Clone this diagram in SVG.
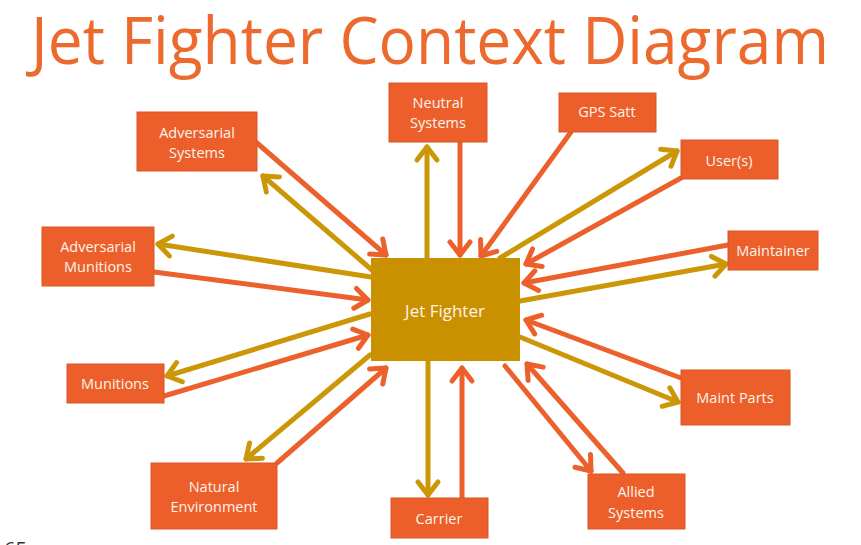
<svg xmlns="http://www.w3.org/2000/svg" width="861" height="545" viewBox="0 0 861 545">
<defs>
<style>
.box{fill:#EC5F2A;stroke:#D9542A;stroke-width:1}
.core{fill:#C99100}
.lbl{font-family:"Open Sans","Noto Sans",sans-serif;font-size:14.5px;fill:#FFF3EC;text-anchor:middle}
.o{stroke:#EC602B;stroke-width:5;fill:none;stroke-linecap:round;marker-end:url(#ho)}
.g{stroke:#CB9706;stroke-width:5;fill:none;stroke-linecap:round;marker-end:url(#hg)}
</style>
<marker id="ho" markerUnits="userSpaceOnUse" markerWidth="30" markerHeight="30" viewBox="-20 -15 30 30" refX="0" refY="0" orient="auto">
<path d="M-13,-10 L0,0 L-13,10" fill="none" stroke="#EC602B" stroke-width="5" stroke-linecap="round" stroke-linejoin="round"/>
</marker>
<marker id="hg" markerUnits="userSpaceOnUse" markerWidth="30" markerHeight="30" viewBox="-20 -15 30 30" refX="0" refY="0" orient="auto">
<path d="M-13,-10 L0,0 L-13,10" fill="none" stroke="#CB9706" stroke-width="5" stroke-linecap="round" stroke-linejoin="round"/>
</marker>
</defs>
<rect width="861" height="545" fill="#FFFFFF"/>
<text x="430" y="64" font-family="'Open Sans','Noto Sans',sans-serif" font-size="66" fill="#ED6A2E" text-anchor="middle" textLength="798" lengthAdjust="spacingAndGlyphs">Jet Fighter Context Diagram</text>
<g id="connectors">
<line class="o" x1="257" y1="143" x2="386" y2="255"/>
<line class="g" x1="372" y1="270" x2="263" y2="176"/>
<line class="g" x1="427" y1="258" x2="427" y2="147"/>
<line class="o" x1="460" y1="142" x2="460" y2="255"/>
<line class="o" x1="571" y1="132" x2="481" y2="256"/>
<line class="g" x1="500" y1="258" x2="677" y2="151"/>
<line class="o" x1="681" y1="178" x2="526" y2="264"/>
<line class="o" x1="728" y1="245" x2="524" y2="283"/>
<line class="g" x1="520" y1="301" x2="726" y2="264"/>
<line class="o" x1="681" y1="378" x2="526" y2="320"/>
<line class="g" x1="520" y1="337" x2="678" y2="402"/>
<line class="o" x1="505" y1="366" x2="591" y2="471"/>
<line class="o" x1="623" y1="473" x2="527" y2="364"/>
<line class="g" x1="428" y1="361" x2="428" y2="495"/>
<line class="o" x1="462" y1="498" x2="462" y2="368"/>
<line class="o" x1="277" y1="463" x2="386" y2="368"/>
<line class="g" x1="370" y1="355" x2="246" y2="459"/>
<line class="o" x1="164" y1="396" x2="368" y2="335"/>
<line class="g" x1="370" y1="314" x2="167" y2="376"/>
<line class="o" x1="154" y1="272" x2="368" y2="300"/>
<line class="g" x1="371" y1="277" x2="158" y2="244"/>
</g>
<g id="jet-fighter">
<rect class="core" x="371" y="258" width="149" height="103"/>
<text class="lbl" x="445" y="317" style="font-size:17px">Jet Fighter</text>
</g>
<g id="adversarial-systems">
<rect class="box" x="137" y="112" width="120" height="59"/>
<text class="lbl" x="197" y="138">Adversarial</text>
<text class="lbl" x="197" y="158">Systems</text>
</g>
<g id="neutral-systems">
<rect class="box" x="389" y="83" width="98" height="59"/>
<text class="lbl" x="438" y="108">Neutral</text>
<text class="lbl" x="438" y="128">Systems</text>
</g>
<g id="gps-satt">
<rect class="box" x="559" y="93" width="97" height="39"/>
<text class="lbl" x="607" y="117">GPS Satt</text>
</g>
<g id="users">
<rect class="box" x="681" y="140" width="97" height="39"/>
<text class="lbl" x="729" y="166">User(s)</text>
</g>
<g id="maintainer">
<rect class="box" x="728" y="231" width="90" height="39"/>
<text class="lbl" x="773" y="256">Maintainer</text>
</g>
<g id="adversarial-munitions">
<rect class="box" x="42" y="227" width="112" height="59"/>
<text class="lbl" x="98" y="252">Adversarial</text>
<text class="lbl" x="98" y="272">Munitions</text>
</g>
<g id="munitions">
<rect class="box" x="67" y="364" width="97" height="39"/>
<text class="lbl" x="115" y="389">Munitions</text>
</g>
<g id="natural-environment">
<rect class="box" x="151" y="463" width="126" height="66"/>
<text class="lbl" x="214" y="492">Natural</text>
<text class="lbl" x="214" y="512">Environment</text>
</g>
<g id="carrier">
<rect class="box" x="391" y="498" width="97" height="40"/>
<text class="lbl" x="439" y="524">Carrier</text>
</g>
<g id="allied-systems">
<rect class="box" x="588" y="474" width="97" height="55"/>
<text class="lbl" x="636" y="497">Allied</text>
<text class="lbl" x="636" y="518">Systems</text>
</g>
<g id="maint-parts">
<rect class="box" x="681" y="370" width="109" height="55"/>
<text class="lbl" x="735" y="403">Maint Parts</text>
</g>
<text x="4" y="556" font-family="'Open Sans',sans-serif" font-size="20" fill="#333333">65</text>
</svg>
